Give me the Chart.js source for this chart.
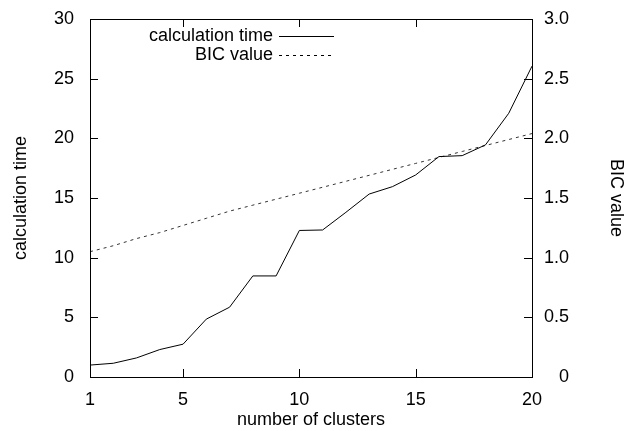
<!DOCTYPE html>
<html>
<head>
<meta charset="utf-8">
<script src="https://cdn.jsdelivr.net/npm/chart.js@4/dist/chart.umd.min.js"></script>
<style>
  html, body { margin: 0; padding: 0; background: #fff; }
</style>
</head>
<body>
<canvas id="chart" width="627" height="431"></canvas>
<script>
const clusters = [1, 2, 3, 4, 5, 6, 7, 8, 9, 10, 11, 12, 13, 14, 15, 16, 17, 18, 19, 20];
const calcTime = [1.0, 1.15, 1.6, 2.3, 2.75, 4.85, 5.85, 8.47, 8.47, 12.28, 12.32, 13.8, 15.33, 15.95, 16.93, 18.47, 18.55, 19.45, 22.1, 26.05];
const bicValue = [1.05, 1.10, 1.16, 1.21, 1.27, 1.33, 1.39, 1.44, 1.49, 1.54, 1.59, 1.64, 1.69, 1.74, 1.79, 1.84, 1.89, 1.94, 1.99, 2.04];
const xTicks = [1, 5, 10, 15, 20];
const bicTicks = [0, 0.5, 1.0, 1.5, 2.0, 2.5, 3.0];

const FONT = '"Liberation Sans", Arial, sans-serif';
Chart.defaults.font.family = FONT;
Chart.defaults.font.size = 18;
Chart.defaults.color = '#000';

// gnuplot-like frame: box, inward ticks, right-aligned y2 labels, key inside top-left
const frame = {
    id: 'frame',
    afterDatasetsDraw(chart) {
        const { ctx, chartArea: a, scales } = chart;
        ctx.save();
        ctx.strokeStyle = '#000';
        ctx.lineWidth = 1;
        ctx.setLineDash([]);
        ctx.beginPath();
        xTicks.forEach(v => {
            const px = Math.round(scales.x.getPixelForValue(v)) + 0.5;
            ctx.moveTo(px, a.bottom); ctx.lineTo(px, a.bottom - 8);
            ctx.moveTo(px, a.top); ctx.lineTo(px, a.top + 8);
        });
        scales.y.ticks.forEach(t => {
            const py = Math.round(scales.y.getPixelForValue(t.value)) + 0.5;
            ctx.moveTo(a.left, py); ctx.lineTo(a.left + 8, py);
        });
        bicTicks.forEach(v => {
            const py = Math.round(scales.y1.getPixelForValue(v)) + 0.5;
            ctx.moveTo(a.right, py); ctx.lineTo(a.right - 8, py);
        });
        ctx.stroke();
        ctx.strokeRect(Math.round(a.left) + 0.5, Math.round(a.top) + 0.5,
            Math.round(a.right - a.left), Math.round(a.bottom - a.top));

        ctx.font = '18px ' + FONT;
        ctx.fillStyle = '#000';
        ctx.textAlign = 'right';
        ctx.textBaseline = 'middle';
        bicTicks.forEach(v => {
            ctx.fillText(v === 0 ? '0' : v.toFixed(1), 569, scales.y1.getPixelForValue(v));
        });

        chart.data.datasets.forEach((ds, i) => {
            const y = 36 + i * 19;
            ctx.fillText(ds.label, 273, y);
            ctx.setLineDash(ds.borderDash || []);
            ctx.beginPath();
            ctx.moveTo(279, y + 0.5);
            ctx.lineTo(334, y + 0.5);
            ctx.stroke();
        });
        ctx.restore();
    }
};

new Chart(document.getElementById('chart'), {
    type: 'line',
    data: {
        datasets: [{
            label: 'calculation time',
            data: clusters.map((c, i) => ({ x: c, y: calcTime[i] })),
            yAxisID: 'y',
            borderColor: '#000',
            borderWidth: 1,
            pointRadius: 0,
            tension: 0,
        }, {
            label: 'BIC value',
            data: clusters.map((c, i) => ({ x: c, y: bicValue[i] })),
            yAxisID: 'y1',
            borderColor: '#333',
            borderWidth: 1,
            borderDash: [3, 4],
            pointRadius: 0,
            tension: 0,
        }]
    },
    options: {
        responsive: false,
        animation: false,
        devicePixelRatio: 1,
        layout: { padding: { top: 19, left: 0, right: 0, bottom: 0 } },
        plugins: { legend: { display: false }, tooltip: { enabled: false } },
        scales: {
            x: {
                type: 'linear',
                min: 1,
                max: 20,
                afterBuildTicks: s => { s.ticks = xTicks.map(v => ({ value: v })); },
                afterFit: s => { s.height = 54; },
                grid: { display: false },
                border: { display: false },
                ticks: { padding: 4, maxRotation: 0, autoSkip: false },
                title: { display: true, text: 'number of clusters', padding: { top: 0, bottom: 0 } }
            },
            y: {
                position: 'left',
                min: 0,
                max: 30,
                afterFit: s => { s.width = 90; },
                grid: { display: false },
                border: { display: false },
                ticks: { stepSize: 5, padding: 8 },
                title: { display: true, text: 'calculation time', padding: { top: 10, bottom: 0 } }
            },
            y1: {
                position: 'right',
                min: 0,
                max: 3,
                afterFit: s => { s.width = 95; },
                grid: { display: false },
                border: { display: false },
                ticks: { display: false, stepSize: 0.5 },
                title: { display: true, text: 'BIC value', padding: { top: 0, bottom: 0 } }
            }
        }
    },
    plugins: [frame]
});
</script>
</body>
</html>
